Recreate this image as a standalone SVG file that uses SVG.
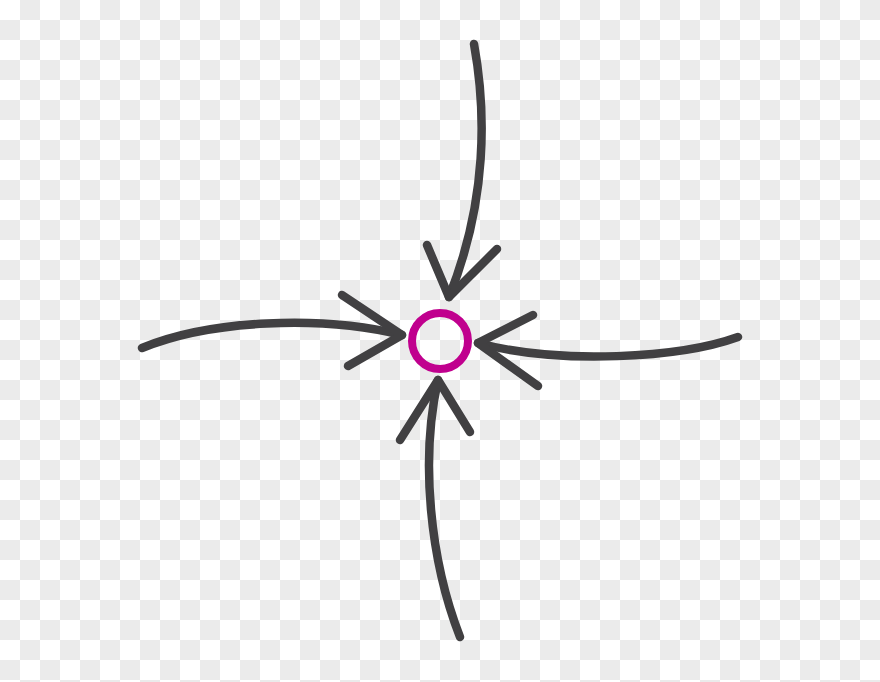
<svg xmlns="http://www.w3.org/2000/svg" width="880" height="682" viewBox="0 0 880 682">
  <defs>
    <pattern id="checker" x="0" y="0" width="40" height="40" patternUnits="userSpaceOnUse">
      <rect width="40" height="40" fill="#ffffff"/>
      <rect x="20" y="0" width="20" height="20" fill="#ebebeb"/>
      <rect x="0" y="20" width="20" height="20" fill="#ebebeb"/>
    </pattern>
  </defs>
  <style>
    .arrow { fill: none; stroke: #414042; stroke-width: 8.5; stroke-linecap: round; stroke-linejoin: round; }
    .hub { fill: none; stroke: #c0008e; stroke-width: 8; }
  </style>
  <rect width="880" height="682" fill="url(#checker)"/>
  <g id="center">
    <circle class="hub" cx="440" cy="341" r="28"/>
  </g>
  <g id="connectors">
    <g id="arrow-top">
      <path class="arrow" d="M474,44 C486,110 488,200 449,297"/>
      <polyline class="arrow" points="427,245 449,297 497,249"/>
    </g>
    <g id="arrow-bottom">
      <path class="arrow" d="M460,637 C430,560 420,460 438,380"/>
      <polyline class="arrow" points="400,440 438,380 470,432"/>
    </g>
    <g id="arrow-left">
      <path class="arrow" d="M142,348 C210,320 320,315 402,335"/>
      <polyline class="arrow" points="342,295 402,335 348,366"/>
    </g>
    <g id="arrow-right">
      <path class="arrow" d="M738,337 C680,358 560,365 478,343"/>
      <polyline class="arrow" points="533,315 478,343 538,386"/>
    </g>
  </g>
</svg>
